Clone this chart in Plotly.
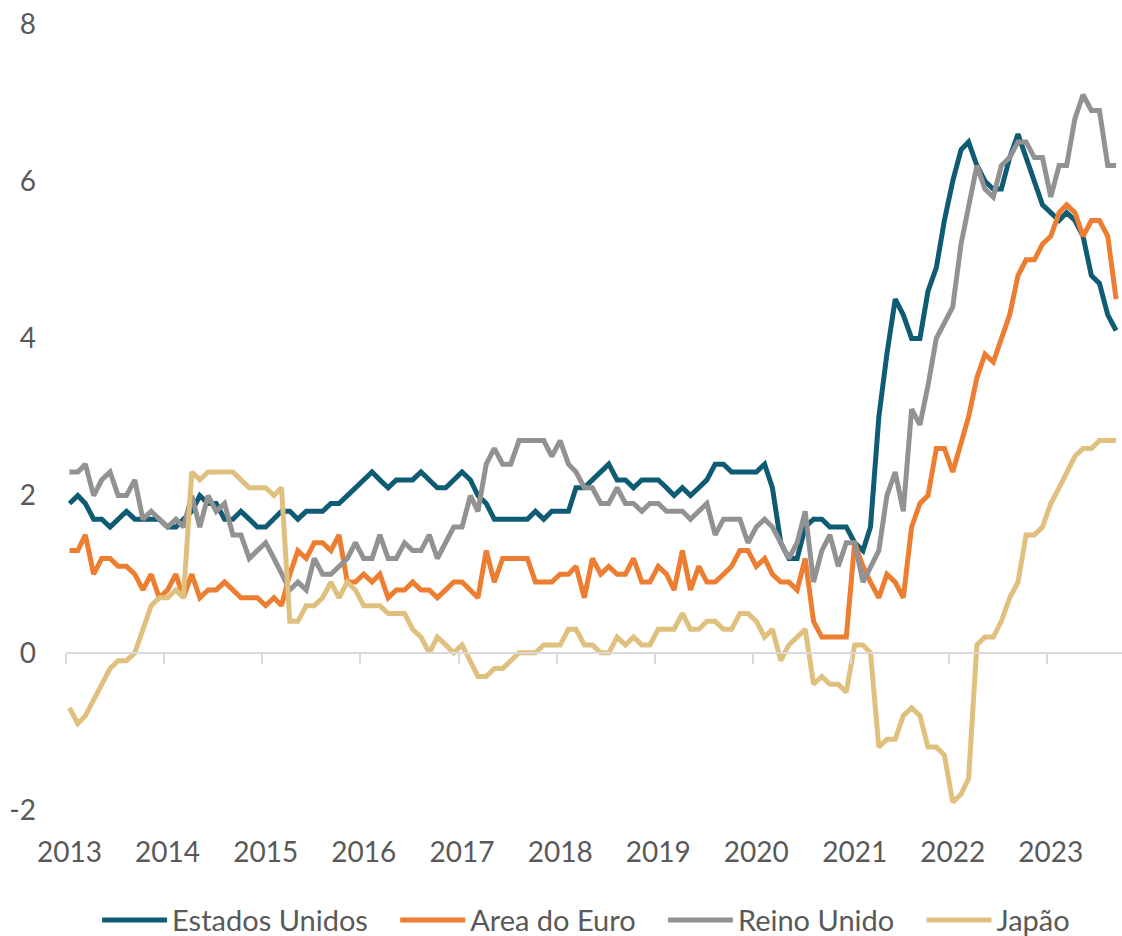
import pandas as pd
import plotly.graph_objects as go

months = pd.date_range("2013-01-01", "2023-09-01", freq="MS")

estados_unidos = [
    1.9, 2.0, 1.9, 1.7, 1.7, 1.6, 1.7, 1.8, 1.7, 1.7, 1.7, 1.7,
    1.6, 1.6, 1.7, 1.8, 2.0, 1.9, 1.9, 1.7, 1.7, 1.8, 1.7, 1.6,
    1.6, 1.7, 1.8, 1.8, 1.7, 1.8, 1.8, 1.8, 1.9, 1.9, 2.0, 2.1,
    2.2, 2.3, 2.2, 2.1, 2.2, 2.2, 2.2, 2.3, 2.2, 2.1, 2.1, 2.2,
    2.3, 2.2, 2.0, 1.9, 1.7, 1.7, 1.7, 1.7, 1.7, 1.8, 1.7, 1.8,
    1.8, 1.8, 2.1, 2.1, 2.2, 2.3, 2.4, 2.2, 2.2, 2.1, 2.2, 2.2,
    2.2, 2.1, 2.0, 2.1, 2.0, 2.1, 2.2, 2.4, 2.4, 2.3, 2.3, 2.3,
    2.3, 2.4, 2.1, 1.4, 1.2, 1.2, 1.6, 1.7, 1.7, 1.6, 1.6, 1.6,
    1.4, 1.3, 1.6, 3.0, 3.8, 4.5, 4.3, 4.0, 4.0, 4.6, 4.9, 5.5,
    6.0, 6.4, 6.5, 6.2, 6.0, 5.9, 5.9, 6.3, 6.6, 6.3, 6.0, 5.7,
    5.6, 5.5, 5.6, 5.5, 5.3, 4.8, 4.7, 4.3, 4.1,
]

area_do_euro = [
    1.3, 1.3, 1.5, 1.0, 1.2, 1.2, 1.1, 1.1, 1.0, 0.8, 1.0, 0.7,
    0.8, 1.0, 0.7, 1.0, 0.7, 0.8, 0.8, 0.9, 0.8, 0.7, 0.7, 0.7,
    0.6, 0.7, 0.6, 1.0, 1.3, 1.2, 1.4, 1.4, 1.3, 1.5, 0.9, 0.9,
    1.0, 0.9, 1.0, 0.7, 0.8, 0.8, 0.9, 0.8, 0.8, 0.7, 0.8, 0.9,
    0.9, 0.8, 0.7, 1.3, 0.9, 1.2, 1.2, 1.2, 1.2, 0.9, 0.9, 0.9,
    1.0, 1.0, 1.1, 0.7, 1.2, 1.0, 1.1, 1.0, 1.0, 1.2, 0.9, 0.9,
    1.1, 1.0, 0.8, 1.3, 0.8, 1.1, 0.9, 0.9, 1.0, 1.1, 1.3, 1.3,
    1.1, 1.2, 1.0, 0.9, 0.9, 0.8, 1.2, 0.4, 0.2, 0.2, 0.2, 0.2,
    1.4, 1.1, 0.9, 0.7, 1.0, 0.9, 0.7, 1.6, 1.9, 2.0, 2.6, 2.6,
    2.3, 2.7, 3.0, 3.5, 3.8, 3.7, 4.0, 4.3, 4.8, 5.0, 5.0, 5.2,
    5.3, 5.6, 5.7, 5.6, 5.3, 5.5, 5.5, 5.3, 4.5,
]

reino_unido = [
    2.3, 2.3, 2.4, 2.0, 2.2, 2.3, 2.0, 2.0, 2.2, 1.7, 1.8, 1.7,
    1.6, 1.7, 1.6, 2.0, 1.6, 2.0, 1.8, 1.9, 1.5, 1.5, 1.2, 1.3,
    1.4, 1.2, 1.0, 0.8, 0.9, 0.8, 1.2, 1.0, 1.0, 1.1, 1.2, 1.4,
    1.2, 1.2, 1.5, 1.2, 1.2, 1.4, 1.3, 1.3, 1.5, 1.2, 1.4, 1.6,
    1.6, 2.0, 1.8, 2.4, 2.6, 2.4, 2.4, 2.7, 2.7, 2.7, 2.7, 2.5,
    2.7, 2.4, 2.3, 2.1, 2.1, 1.9, 1.9, 2.1, 1.9, 1.9, 1.8, 1.9,
    1.9, 1.8, 1.8, 1.8, 1.7, 1.8, 1.9, 1.5, 1.7, 1.7, 1.7, 1.4,
    1.6, 1.7, 1.6, 1.4, 1.2, 1.4, 1.8, 0.9, 1.3, 1.5, 1.1, 1.4,
    1.4, 0.9, 1.1, 1.3, 2.0, 2.3, 1.8, 3.1, 2.9, 3.4, 4.0, 4.2,
    4.4, 5.2, 5.7, 6.2, 5.9, 5.8, 6.2, 6.3, 6.5, 6.5, 6.3, 6.3,
    5.8, 6.2, 6.2, 6.8, 7.1, 6.9, 6.9, 6.2, 6.2,
]

japao = [
    -0.7, -0.9, -0.8, -0.6, -0.4, -0.2, -0.1, -0.1, 0.0, 0.3, 0.6, 0.7,
    0.7, 0.8, 0.7, 2.3, 2.2, 2.3, 2.3, 2.3, 2.3, 2.2, 2.1, 2.1,
    2.1, 2.0, 2.1, 0.4, 0.4, 0.6, 0.6, 0.7, 0.9, 0.7, 0.9, 0.8,
    0.6, 0.6, 0.6, 0.5, 0.5, 0.5, 0.3, 0.2, 0.0, 0.2, 0.1, 0.0,
    0.1, -0.1, -0.3, -0.3, -0.2, -0.2, -0.1, 0.0, 0.0, 0.0, 0.1, 0.1,
    0.1, 0.3, 0.3, 0.1, 0.1, 0.0, 0.0, 0.2, 0.1, 0.2, 0.1, 0.1,
    0.3, 0.3, 0.3, 0.5, 0.3, 0.3, 0.4, 0.4, 0.3, 0.3, 0.5, 0.5,
    0.4, 0.2, 0.3, -0.1, 0.1, 0.2, 0.3, -0.4, -0.3, -0.4, -0.4, -0.5,
    0.1, 0.1, 0.0, -1.2, -1.1, -1.1, -0.8, -0.7, -0.8, -1.2, -1.2, -1.3,
    -1.9, -1.8, -1.6, 0.1, 0.2, 0.2, 0.4, 0.7, 0.9, 1.5, 1.5, 1.6,
    1.9, 2.1, 2.3, 2.5, 2.6, 2.6, 2.7, 2.7, 2.7,
]

series_names = ["Estados Unidos", "Area do Euro", "Reino Unido", "Japão"]
series_values = [estados_unidos, area_do_euro, reino_unido, japao]
series_colors = ["#0E5B73", "#ED7D31", "#929292", "#E0C07E"]

y_tick_values = [-2, 0, 2, 4, 6, 8]
y_tick_labels = ["-2", "0", "2", "4", "6", "8"]

FONT = "Lato"
TEXT = "#595959"
PAD = "\u00a0" * 3  # extra spacing between legend entries

fig = go.Figure()
n = len(series_names)
for i, (name, vals, col) in enumerate(zip(series_names, series_values, series_colors)):
    label = name + (PAD if i < n - 1 else "")
    fig.add_trace(go.Scatter(
        x=months, y=vals, name=label, mode="lines",
        line=dict(color=col, width=5),
    ))

x_range = ["2012-12-19", "2023-09-23"]

# helper (empty) trace so the zero-line axis with year ticks is rendered
fig.add_trace(go.Scatter(x=[], y=[], xaxis="x2", showlegend=False,
                         hoverinfo="skip"))

fig.update_layout(
    width=1122, height=936,
    margin=dict(l=66, r=0, t=24, b=126, autoexpand=False),
    paper_bgcolor="white", plot_bgcolor="white",
    font=dict(family=FONT, size=28, color=TEXT),
    showlegend=True,
    legend=dict(
        orientation="h", x=0.4925, xanchor="center", y=-0.14, yanchor="middle",
        font=dict(family=FONT, size=29, color=TEXT),
        itemwidth=65,
    ),
    xaxis=dict(
        type="date", range=x_range, showgrid=False, zeroline=False,
        showline=False, ticks="", dtick="M12", tick0="2013-01-01",
        tickformat="%Y", ticklabelstandoff=23, automargin=False,
        tickfont=dict(family=FONT, size=28, color=TEXT),
    ),
    xaxis2=dict(
        type="date", range=x_range, overlaying="x", anchor="free", position=0.2,
        showgrid=False, zeroline=False, showline=True, linecolor="#D9D9D9",
        linewidth=1.5, ticks="outside", ticklen=10, tickwidth=1.5,
        tickcolor="#D9D9D9", dtick="M12", tick0="2012-12-19",
        showticklabels=False, automargin=False,
    ),
    yaxis=dict(
        range=[-2, 8], tickvals=y_tick_values, ticktext=y_tick_labels,
        showgrid=False, zeroline=False, showline=False, ticks="",
        ticklabelstandoff=29, automargin=False,
        tickfont=dict(family=FONT, size=28, color=TEXT),
    ),
)

fig.write_html(
    "out.html",
    config={"displayModeBar": False},
    post_script="document.body.style.margin='0';document.body.style.padding='0';",
)
